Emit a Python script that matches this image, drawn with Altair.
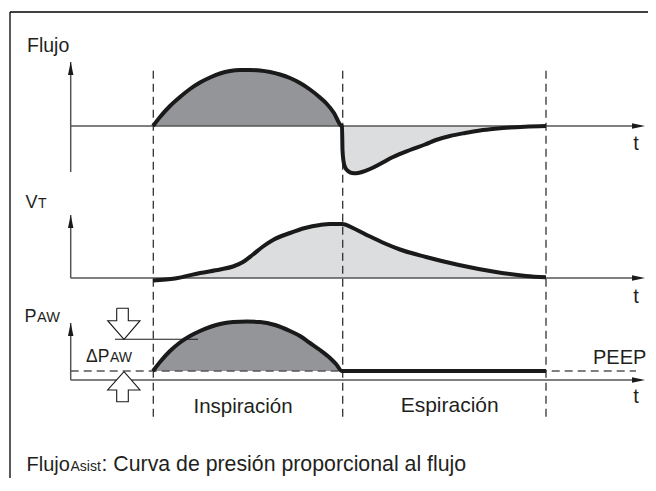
import altair as alt
import pandas as pd

# ---- diagram data (schematic coordinates, x = time axis, y = vertical position) ----
# Flow curve, inspiration part (above baseline)
flow_insp_x = [153, 160, 170, 180, 190, 200, 210, 220, 230, 240, 250, 260, 270, 280, 290, 300, 310, 320, 326, 334, 341]
flow_insp_y = [126, 117, 106, 97, 89, 82.5, 77.5, 73.5, 71, 70, 70, 70.5, 72, 74.5, 78, 83, 89.5, 97.5, 103, 113, 125.5]
# Flow curve, expiration part (below baseline)
flow_exp_x = [342, 342.5, 343.5, 345, 348, 352, 356, 362, 370, 380, 393, 410, 425, 436, 450, 465, 480, 495, 510, 525, 546]
flow_exp_y = [126, 150, 161, 167, 171, 173, 173.2, 172, 169, 164, 157, 150, 144.5, 140, 136, 133, 130.5, 128.8, 127.5, 126.7, 126]
flow_base = 126

# Tidal volume curve
vt_x = [153, 175, 200, 220, 233, 243, 253, 263, 273, 290, 305, 320, 330, 342, 355, 369, 385, 400, 426, 459, 493, 526, 546]
vt_y = [280.5, 278.5, 273, 269.5, 266.5, 262, 254.5, 246.5, 240, 233, 228, 225, 224, 224, 229, 236, 243.5, 249.5, 257, 265, 271.5, 276, 277.3]
vt_base = 278

# Airway pressure curve
paw_x = [153, 160, 170, 180, 190, 200, 210, 220, 233, 247, 260, 275, 290, 300, 310, 320, 330, 336, 342]
paw_y = [371, 362, 351, 342.5, 336, 331, 327, 324, 322, 321.5, 322, 325, 331, 336, 343, 350, 358, 364, 371]
paw_flat_x = [342, 546]
peep = 371
paw_base = 380

# phase boundaries
phase_x = [153.3, 342.7, 546]

# axes
axis_x = 70.7
axis_tops = [62, 215, 323]
axis_bottoms = [172, 278, 380]
t_end = 645

# block arrows for ΔPAW
down_arrow_x = [116.7, 128.3, 128.3, 140, 124, 107.7, 116.7, 116.7]
down_arrow_y = [308.3, 308.3, 320.7, 320.7, 339.3, 320.7, 320.7, 308.3]
up_arrow_x = [124, 140, 128.3, 128.3, 116.7, 116.7, 107.7, 124]
up_arrow_y = [371.7, 390, 390, 401.7, 401.7, 390, 390, 371.7]

# labels
left_labels = ["Flujo", "V", "T", "P", "AW", "ΔP", "AW", "PEEP", "Flujo", "Asist",
               ": Curva de presión proporcional al flujo"]
left_x = [27, 25.5, 38, 24.5, 37, 86, 110, 593, 26.5, 70.5, 101.5]
left_y = [51.7, 207.5, 207.5, 322, 322, 361.5, 361.5, 364, 470.5, 470.5, 470.5]
left_size = [19.5, 18, 14, 18, 14.5, 17.5, 14, 20, 20, 14, 21.3]
center_labels = ["Inspiración", "Espiración", "t", "t", "t"]
center_x = [243, 449.7, 636, 636, 636]
center_y = [412.5, 412, 150, 302.7, 403.3]
center_size = [20.5, 21, 20, 20, 20]

# ---- chart ----
W, H = 640, 470
xs = alt.Scale(domain=[8, 8 + W], nice=False, zero=False)
ys = alt.Scale(domain=[8, 8 + H], nice=False, zero=False, reverse=True)
FONT = "Liberation Sans"
DARK = "#939598"
LIGHT = "#dcdddf"
INK = "#1a1a1a"
AX = "#555555"


def X(f):
    return alt.X(f, type="quantitative", scale=xs, axis=None)


def Y(f):
    return alt.Y(f, type="quantitative", scale=ys, axis=None)


def area(xv, yv, base, color):
    df = pd.DataFrame({"x": xv, "y": yv, "y0": [base] * len(xv)})
    return alt.Chart(df).mark_area(color=color, opacity=1, interpolate="monotone").encode(
        x=X("x"), y=Y("y"), y2=alt.Y2("y0"))


def curve(xv, yv, width=4):
    df = pd.DataFrame({"x": xv, "y": yv, "i": list(range(len(xv)))})
    return alt.Chart(df).mark_line(color=INK, strokeWidth=width, interpolate="monotone",
                                   strokeJoin="round").encode(
        x=X("x"), y=Y("y"), order="i:Q")


# border (top and left)
border_h = alt.Chart(pd.DataFrame({"x": [10], "x2": [648], "y": [12]})).mark_rule(
    color="#000000", strokeWidth=1.3).encode(x=X("x"), x2=alt.X2("x2"), y=Y("y"))
border_v = alt.Chart(pd.DataFrame({"x": [10], "y": [12], "y2": [478]})).mark_rule(
    color="#000000", strokeWidth=1.3).encode(x=X("x"), y=Y("y"), y2=alt.Y2("y2"))

# axis lines
vax = alt.Chart(pd.DataFrame({"x": [axis_x] * 3, "y": axis_tops, "y2": axis_bottoms})).mark_rule(
    color=AX, strokeWidth=1.5).encode(x=X("x"), y=Y("y"), y2=alt.Y2("y2"))
hax = alt.Chart(pd.DataFrame({"x": [axis_x] * 3, "x2": [t_end - 4] * 3,
                              "y": [flow_base, vt_base, paw_base]})).mark_rule(
    color=AX, strokeWidth=1.5).encode(x=X("x"), x2=alt.X2("x2"), y=Y("y"))

# arrowheads
up_heads = alt.Chart(pd.DataFrame({"x": [axis_x] * 3, "y": [t + 6.5 for t in axis_tops]})).mark_point(
    shape="M0,-1L0.42,1L-0.42,1Z", filled=True, color=INK, opacity=1, size=169).encode(x=X("x"), y=Y("y"))
right_heads = alt.Chart(pd.DataFrame({"x": [t_end - 6.5] * 3, "y": [flow_base, vt_base, paw_base]})).mark_point(
    shape="M1,0L-1,-0.42L-1,0.42Z", filled=True, color=INK, opacity=1, size=169).encode(x=X("x"), y=Y("y"))

# PEEP dashed level
peep_line = alt.Chart(pd.DataFrame({"x": [axis_x], "x2": [636], "y": [peep]})).mark_rule(
    color=AX, strokeWidth=1.3, strokeDash=[8, 5]).encode(x=X("x"), x2=alt.X2("x2"), y=Y("y"))

# phase boundaries
phases = alt.Chart(pd.DataFrame({"x": phase_x, "y": [70.7] * 3, "y2": [418] * 3})).mark_rule(
    color="#333333", strokeWidth=1.3, strokeDash=[8, 5]).encode(x=X("x"), y=Y("y"), y2=alt.Y2("y2"))

# white gap where the pressure baseline passes under the hollow arrow head
gap = alt.Chart(pd.DataFrame({"x": [116.5], "x2": [131.5], "y": [paw_base]})).mark_rule(
    color="white", strokeWidth=2.5).encode(x=X("x"), x2=alt.X2("x2"), y=Y("y"))

# hollow block arrows
arr_df = pd.DataFrame({
    "x": down_arrow_x + up_arrow_x,
    "y": down_arrow_y + up_arrow_y,
    "g": ["d"] * len(down_arrow_x) + ["u"] * len(up_arrow_x),
    "i": list(range(len(down_arrow_x))) + list(range(len(up_arrow_x))),
})
arrows = alt.Chart(arr_df).mark_line(color=INK, strokeWidth=1.1, strokeJoin="miter").encode(
    x=X("x"), y=Y("y"), detail="g:N", order="i:Q")
delta_line = alt.Chart(pd.DataFrame({"x": [115], "x2": [198], "y": [339.3]})).mark_rule(
    color=INK, strokeWidth=1.1).encode(x=X("x"), x2=alt.X2("x2"), y=Y("y"))

# texts
lt = alt.Chart(pd.DataFrame({"t": left_labels, "x": left_x, "y": left_y, "s": left_size})).mark_text(
    align="left", baseline="alphabetic", font=FONT, color="#231f20").encode(
    x=X("x"), y=Y("y"), text="t:N", size=alt.Size("s:Q", scale=None))
ct = alt.Chart(pd.DataFrame({"t": center_labels, "x": center_x, "y": center_y, "s": center_size})).mark_text(
    align="center", baseline="alphabetic", font=FONT, color="#231f20").encode(
    x=X("x"), y=Y("y"), text="t:N", size=alt.Size("s:Q", scale=None))

chart = alt.layer(
    border_h, border_v,
    area(flow_insp_x, flow_insp_y, flow_base, DARK),
    area(flow_exp_x, flow_exp_y, flow_base, LIGHT),
    area(vt_x, vt_y, vt_base, LIGHT),
    area(paw_x, paw_y, peep, DARK),
    vax, hax, peep_line, phases, gap,
    curve(flow_insp_x + flow_exp_x, flow_insp_y + flow_exp_y),
    curve(vt_x, vt_y),
    curve(paw_x + paw_flat_x[1:], paw_y + [peep]),
    up_heads, right_heads, arrows, delta_line, lt, ct,
).properties(
    width=W, height=H, autosize=alt.AutoSizeParams(type="none"), padding=0
).configure_view(stroke=None)

chart.save("out.html", embed_options={"renderer": "svg", "actions": False})
